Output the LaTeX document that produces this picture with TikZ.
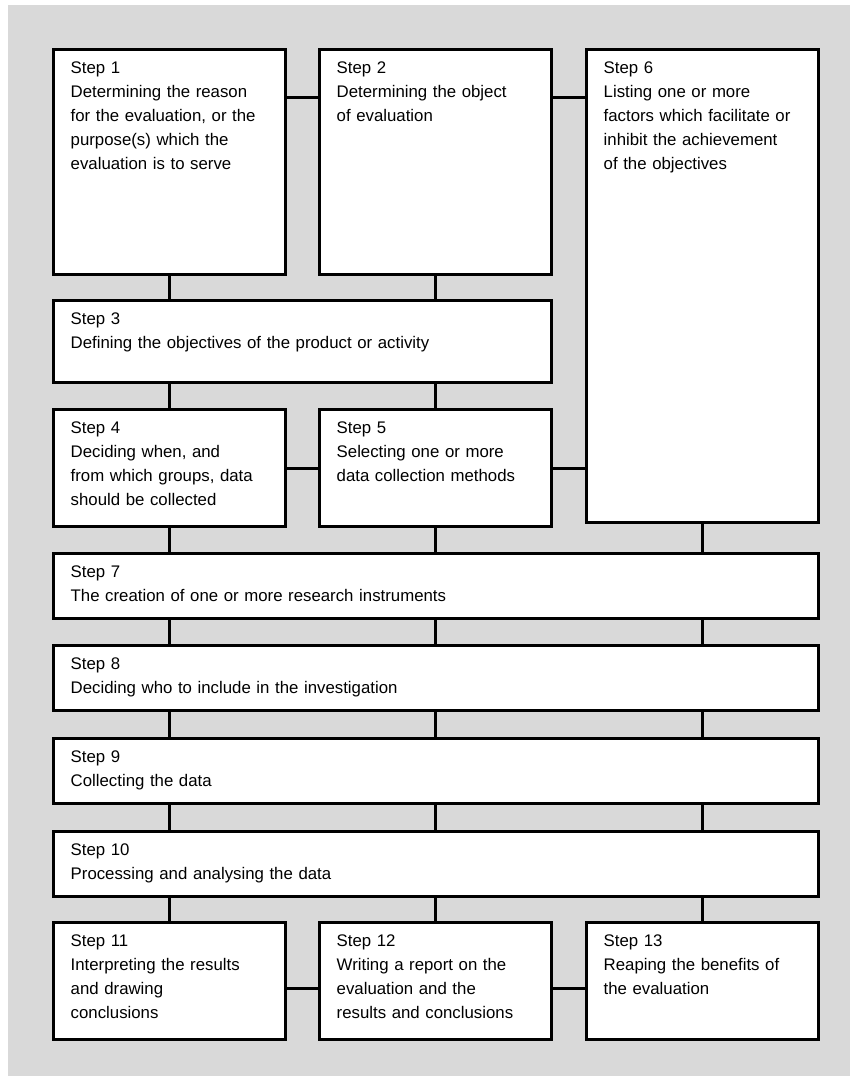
\documentclass[tikz,border=0pt]{standalone}
\usepackage{fontspec}
\setmainfont{Liberation Sans}
\usetikzlibrary{calc}
\definecolor{bggray}{RGB}{217,217,217}
\newcommand\stepnode[6]{%
  \node[stepbox, minimum width=#4pt, minimum height=#5pt] (#1) at (#2,#3) {};
  \node[steptext] (#1t) at ([xshift=18.5pt,yshift=-25.5pt]#1.north west) {#6};}
\begin{document}
\begin{tikzpicture}[x=1pt,y=-1pt,
  stepbox/.style={draw=black, line width=2.6pt, fill=white, anchor=north west, inner sep=0pt},
  steptext/.style={anchor=base west, inner sep=0pt, text width=740pt, align=left,
    font=\fontsize{16.8}{24}\selectfont},
  conn/.style={line width=3pt, line cap=butt}]
\useasboundingbox (0,0) rectangle (850,1076);
\fill[white] (0,0) rectangle (850,1076);
\fill[bggray] (8,5) rectangle (850,1076);

\stepnode{s1}{52}{48}{232}{225}{Step 1\\Determining the reason\\for the evaluation, or the\\purpose(s) which the\\evaluation is to serve}
\stepnode{s2}{318}{48}{232}{225}{Step 2\\Determining the object\\of evaluation}
\stepnode{s6}{585}{48}{232}{473}{Step 6\\Listing one or more\\factors which facilitate or\\inhibit the achievement\\of the objectives}
\stepnode{s3}{52}{299}{498}{82}{Step 3\\Defining the objectives of the product or activity}
\stepnode{s4}{52}{408}{232}{117}{Step 4\\Deciding when, and\\from which groups, data\\should be collected}
\stepnode{s5}{318}{408}{232}{117}{Step 5\\Selecting one or more\\data collection methods}
\stepnode{s7}{52}{552}{765}{65}{Step 7\\The creation of one or more research instruments}
\stepnode{s8}{52}{644}{765}{65}{Step 8\\Deciding who to include in the investigation}
\stepnode{s9}{52}{737}{765}{65}{Step 9\\Collecting the data}
\stepnode{s10}{52}{830}{765}{65}{Step 10\\Processing and analysing the data}
\stepnode{s11}{52}{921}{232}{117}{Step 11\\Interpreting the results\\and drawing\\conclusions}
\stepnode{s12}{318}{921}{232}{117}{Step 12\\Writing a report on the\\evaluation and the\\results and conclusions}
\stepnode{s13}{585}{921}{232}{117}{Step 13\\Reaping the benefits of\\the evaluation}

% top row horizontal links
\coordinate (h12) at ([yshift=-49pt]s1.north east);
\draw[conn] (h12) -- (h12 -| s2.west);
\draw[conn] (h12 -| s2.east) -- (h12 -| s6.west);
% steps 1,2 to step 3
\draw[conn] (s1.south) -- (s1.south |- s3.north);
\draw[conn] (s2.south) -- (s2.south |- s3.north);
% step 3 to steps 4,5
\draw[conn] (s4.north |- s3.south) -- (s4.north);
\draw[conn] (s5.north |- s3.south) -- (s5.north);
% steps 4,5,6 horizontal links
\coordinate (h45) at ([yshift=-60pt]s4.north east);
\draw[conn] (h45) -- (h45 -| s5.west);
\draw[conn] (h45 -| s5.east) -- (h45 -| s6.west);
% steps 4,5,6 to step 7
\draw[conn] (s4.south) -- (s4.south |- s7.north);
\draw[conn] (s5.south) -- (s5.south |- s7.north);
\draw[conn] (s6.south) -- (s6.south |- s7.north);
% full-width chain
\foreach \a/\b in {s7/s8, s8/s9, s9/s10}{
  \foreach \c in {s11, s12, s13}{
    \draw[conn] (\c.north |- \a.south) -- (\c.north |- \b.north);
  }
}
% step 10 to steps 11,12,13
\draw[conn] (s11.north |- s10.south) -- (s11.north);
\draw[conn] (s12.north |- s10.south) -- (s12.north);
\draw[conn] (s13.north |- s10.south) -- (s13.north);
% bottom row horizontal links
\coordinate (h1112) at ([yshift=-67pt]s11.north east);
\draw[conn] (h1112) -- (h1112 -| s12.west);
\draw[conn] (h1112 -| s12.east) -- (h1112 -| s13.west);
\end{tikzpicture}
\end{document}
